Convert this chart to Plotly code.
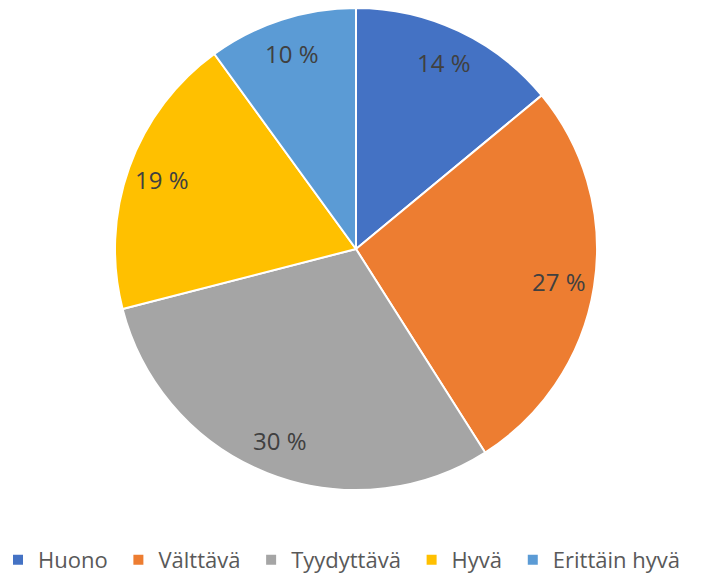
import math
import plotly.graph_objects as go

labels = ["Huono", "Välttävä", "Tyydyttävä", "Hyvä", "Erittäin hyvä"]
values = [14, 27, 30, 19, 10]
colors = ["#4472C4", "#ED7D31", "#A5A5A5", "#FFC000", "#5B9BD5"]

FONT = "Open Sans, Liberation Sans, sans-serif"
W, H = 704, 567            # page body has an 8px margin
MB = 15                    # bottom margin; legend sits on the plot-area bottom edge
HP = H - MB                # plot-area height
CX, CY, R = 348, 241, 241  # pie centre / radius in figure pixels (from top-left)
LABEL_R = 206              # distance of the data labels from the centre

dom_x = [(CX - R) / W, (CX + R) / W]
dom_y = [max(0, (HP - CY - R) / HP), min(1, (HP - CY + R) / HP)]

# a little extra trailing space between legend entries, as in the original
legend_names = [n + "\u00a0" if i < len(labels) - 1 else n for i, n in enumerate(labels)]

fig = go.Figure(go.Pie(
    labels=legend_names,
    values=values,
    sort=False,
    direction="clockwise",
    rotation=0,
    marker=dict(colors=colors, line=dict(color="white", width=2)),
    textinfo="none",
    domain=dict(x=dom_x, y=dom_y),
    hoverinfo="label+percent",
))

# data labels placed along each slice's bisector
total = sum(values)
cum = 0
for v in values:
    mid = (cum + v / 2) / total * 2 * math.pi
    cum += v
    fig.add_annotation(
        x=(CX + LABEL_R * math.sin(mid)) / W,
        y=(HP - CY + LABEL_R * math.cos(mid)) / HP,
        xref="paper", yref="paper",
        xanchor="center", yanchor="middle",
        text=f"{v} %", showarrow=False,
        font=dict(family=FONT, size=24, color="#404040"),
    )

fig.update_layout(
    width=W, height=H,
    margin=dict(l=0, r=0, t=0, b=MB, autoexpand=False),
    paper_bgcolor="white",
    showlegend=True,
    legend=dict(
        orientation="h",
        x=-10 / W, xanchor="left",
        y=-0.0001, yanchor="middle",
        font=dict(family=FONT, size=22, color="#595959"),
        itemwidth=30,
        traceorder="normal",
    ),
)

fig.write_html("out.html")
